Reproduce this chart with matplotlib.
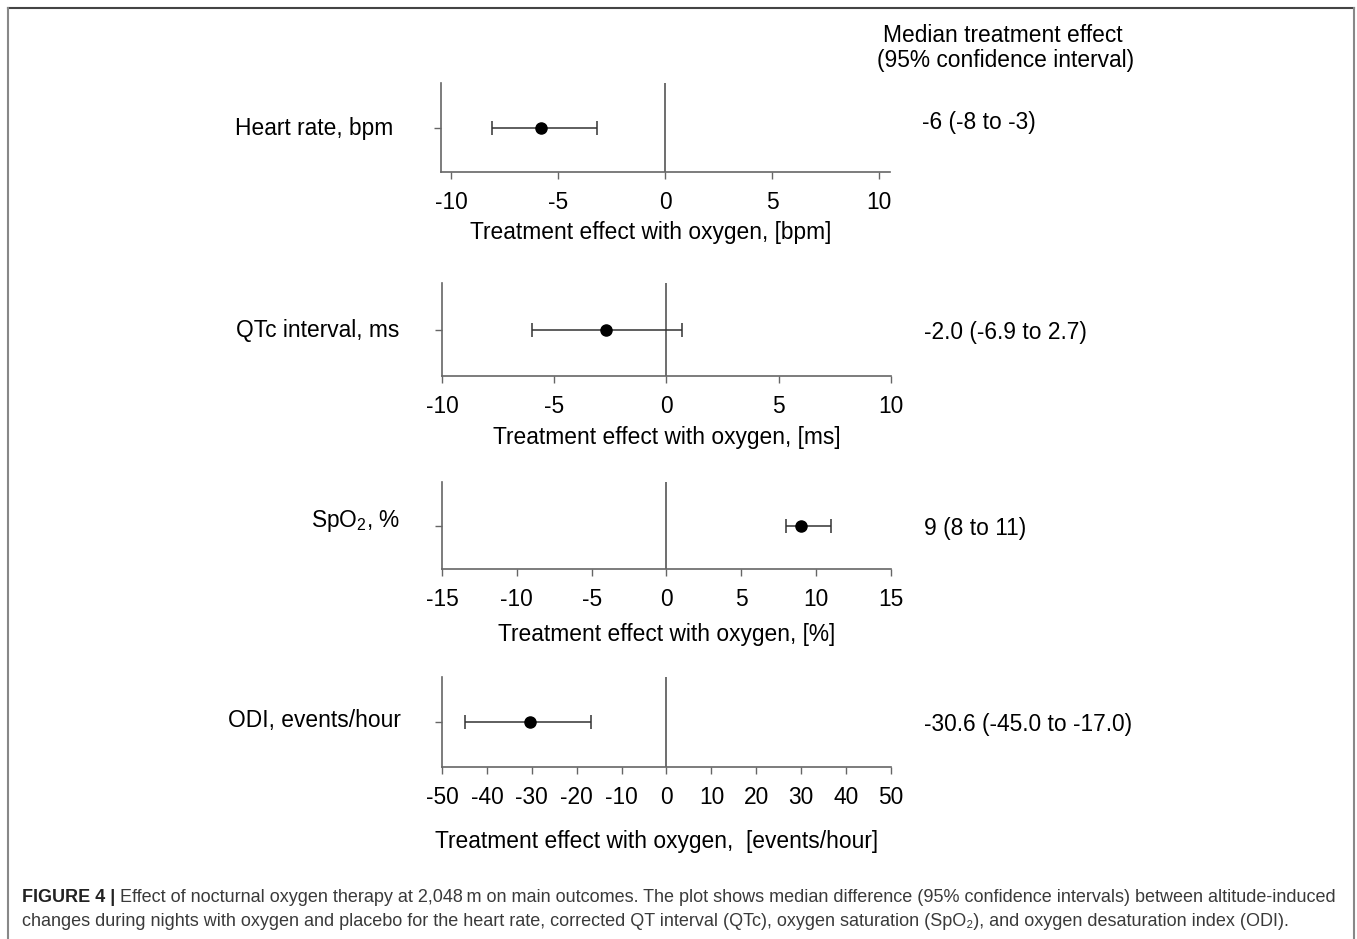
import matplotlib
matplotlib.use("Agg")
import matplotlib.pyplot as plt
from matplotlib.lines import Line2D

plt.rcParams['font.family'] = ['Liberation Sans', 'DejaVu Sans']
plt.rcParams['mathtext.fontset'] = 'custom'
plt.rcParams['mathtext.rm'] = 'Liberation Sans'
plt.rcParams['mathtext.it'] = 'Liberation Sans'

# data
outcomes = ["Heart rate, bpm", "QTc interval, ms", "SpO$_2$, %", "ODI, events/hour"]
medians = [-5.8, -2.7, 9.0, -30.4]
ci_low = [-8.1, -6.0, 8.0, -44.9]
ci_high = [-3.2, 0.7, 11.0, -16.9]
effect_text = ["-6 (-8 to -3)", "-2.0 (-6.9 to 2.7)", "9 (8 to 11)",
               "-30.6 (-45.0 to -17.0)"]
units = ["[bpm]", "[ms]", "[%]", " [events/hour]"]
xlims = [(-10.5, 10.5), (-10, 10), (-15, 15), (-50, 50)]
xticks = [[-10, -5, 0, 5, 10],
          [-10, -5, 0, 5, 10],
          [-15, -10, -5, 0, 5, 10, 15],
          [-50, -40, -30, -20, -10, 0, 10, 20, 30, 40, 50]]

W, H = 1357, 939
FS = 16.4
fig = plt.figure(figsize=(W / 100, H / 100), dpi=100)


def fx(x):
    return x / W


def fy(y):
    return 1 - y / H


# panel boxes in pixels: left, right, top, bottom
boxes = [(440.7, 890, 83, 172), (442, 891, 283, 376),
         (442, 891, 482, 569), (442, 891, 677, 767)]
label_right = [393, 399, 400, 401]
label_y = [128, 330, 521, 721]
eff_y = [122, 333, 529, 725]
eff_x = [922, 924, 924, 924]
xlabel_pad = [4.5, 5.5, 8.5, 15]
xlabel_shift = [-15, 0, 0, -10]   # pixels, horizontal offset of the axis title

for i in range(4):
    l, r, t, b = boxes[i]
    ax = fig.add_axes([fx(l), fy(b), (r - l) / W, (b - t) / H])
    ax.errorbar([medians[i]], [0],
                xerr=[[medians[i] - ci_low[i]], [ci_high[i] - medians[i]]],
                fmt='o', color='black', ecolor='#333333', elinewidth=1.1,
                capsize=5, capthick=1.1, markersize=8, zorder=3)
    ax.axvline(0, color='#555555', lw=1.2, zorder=1)
    ax.set_xlim(*xlims[i])
    ax.set_ylim(-1, 1)
    ax.set_xticks(xticks[i])
    ax.set_xticklabels([str(v) for v in xticks[i]])
    ax.set_yticks([0])
    ax.set_yticklabels([])
    for s in ['top', 'right']:
        ax.spines[s].set_visible(False)
    for s in ['left', 'bottom']:
        ax.spines[s].set_color('#666666')
        ax.spines[s].set_linewidth(1.2)
    ax.tick_params(axis='x', direction='out', length=5, width=1, color='#666666',
                   labelsize=FS, pad=9)
    ax.tick_params(axis='y', direction='out', length=5, width=1, color='#666666')
    ax.set_xlabel("Treatment effect with oxygen, " + units[i], fontsize=FS,
                  labelpad=xlabel_pad[i])
    ax.xaxis.label.set_x(0.5 + xlabel_shift[i] / (r - l))
    ax.set_facecolor('none')

    fig.text(fx(label_right[i]), fy(label_y[i]), outcomes[i], fontsize=FS,
             ha='right', va='center')
    fig.text(fx(eff_x[i]), fy(eff_y[i]), effect_text[i], fontsize=FS,
             ha='left', va='center')

fig.text(fx(1003), fy(35), "Median treatment effect", fontsize=FS,
         ha='center', va='center')
fig.text(fx(1006), fy(61), "(95% confidence interval)", fontsize=FS,
         ha='center', va='center')

# frame around the figure (bottom edge is cut off)
fig.add_artist(Line2D([fx(8), fx(1354)], [fy(8), fy(8)], color='#444444', lw=1.5))
fig.add_artist(Line2D([fx(8), fx(8)], [fy(8), 0], color='#888888', lw=1.5))
fig.add_artist(Line2D([fx(1354), fx(1354)], [fy(8), 0], color='#888888', lw=1.5))

# caption
cap_font = ['Liberation Sans Narrow', 'Liberation Sans', 'DejaVu Sans']
line1 = ("Effect of nocturnal oxygen therapy at 2,048\u2009m on main outcomes. "
         "The plot shows median difference (95% confidence intervals) between "
         "altitude-induced")
line2 = ("changes during nights with oxygen and placebo for the heart rate, "
         "corrected QT interval (QTc), oxygen saturation (SpO\u2082), and oxygen "
         "desaturation index (ODI).")
cap_size = 12.5
bold = fig.text(fx(22), fy(897), "FIGURE 4 |", fontsize=cap_size, family=cap_font,
                fontweight='bold', color='#222222', ha='left', va='center')
t1 = fig.text(fx(22), fy(897), line1, fontsize=cap_size, family=cap_font,
              color='#3a3a3a', ha='left', va='center')
t2 = fig.text(fx(22), fy(921), line2, fontsize=cap_size, family=cap_font,
              color='#3a3a3a', ha='left', va='center')
# scale caption so the first line ends where it does in the original
fig.canvas.draw()
total = bold.get_window_extent().width + 5 + t1.get_window_extent().width
scale = (1340 - 22) / total
for t in (bold, t1, t2):
    t.set_fontsize(cap_size * scale)
fig.canvas.draw()
t1.set_x(fx(bold.get_window_extent().x1 + 5))

fig.savefig("out.png", dpi=100)
